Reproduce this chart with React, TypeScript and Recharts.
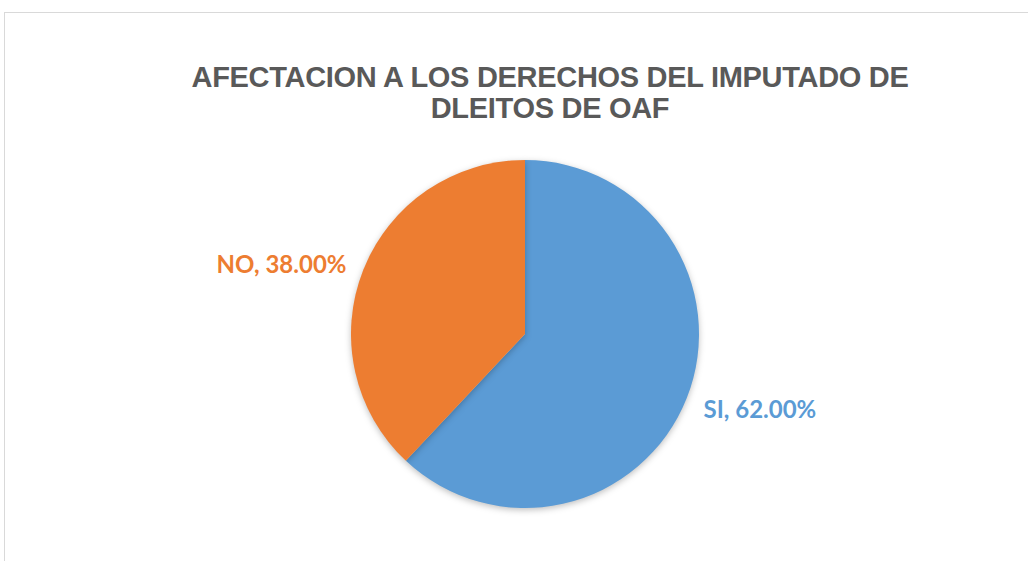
import { PieChart, Pie, Cell } from 'recharts'

const CATEGORIES = ['SI', 'NO']
const VALUES = [62, 38]
const COLORS = ['#5B9BD5', '#ED7D31']
const TITLE_LINES = ['AFECTACION A LOS DERECHOS DEL IMPUTADO DE', 'DLEITOS DE OAF']

const RADIAN = Math.PI / 180

const data = CATEGORIES.map((name, i) => ({ name, value: VALUES[i] }))

function renderLabel(props: any) {
  const { cx, cy, midAngle, outerRadius, index, name, value } = props
  const r = outerRadius + 18
  const x = cx + r * Math.cos(-midAngle * RADIAN)
  const y = cy + r * Math.sin(-midAngle * RADIAN)
  const right = x > cx
  return (
    <text
      x={x}
      y={y + (right ? 4 : 0)}
      fill={COLORS[index % COLORS.length]}
      textAnchor={right ? 'start' : 'end'}
      dominantBaseline="central"
      style={{ fontFamily: 'Lato, "Open Sans", sans-serif', fontWeight: 700, fontSize: 24 }}
    >
      {`${name}, ${value.toFixed(2)}%`}
    </text>
  )
}

export default function App() {
  return (
    <div style={{ position: 'absolute', left: 0, top: 0, width: 1028, height: 561, background: '#fff', overflow: 'hidden' }}>
      <style>{`.recharts-sector { filter: drop-shadow(0px 2px 3px rgba(0,0,0,0.25)); }`}</style>
      {/* chart frame */}
      <div
        style={{
          position: 'absolute',
          left: 4,
          top: 12,
          width: 1040,
          height: 570,
          borderLeft: '1px solid #d9d9d9',
          borderTop: '1px solid #d9d9d9',
        }}
      />
      <div
        style={{
          position: 'absolute',
          left: 0,
          top: 62,
          width: 1100,
          textAlign: 'center',
          color: '#595959',
          fontFamily: '"Liberation Sans", Arial, sans-serif',
          fontWeight: 700,
          fontSize: 29,
          lineHeight: '31px',
          letterSpacing: -0.3,
        }}
      >
        {TITLE_LINES.map((t) => (
          <div key={t}>{t}</div>
        ))}
      </div>
      <div style={{ position: 'absolute', left: 0, top: 0 }}>
        <PieChart width={1028} height={561} margin={{ top: 0, right: 0, bottom: 0, left: 0 }}>
          <Pie
            data={data}
            dataKey="value"
            nameKey="name"
            cx={525}
            cy={334}
            outerRadius={174}
            startAngle={90}
            endAngle={-270}
            stroke="none"
            labelLine={false}
            label={renderLabel}
            isAnimationActive={false}
          >
            {data.map((entry, index) => (
              <Cell key={`cell-${entry.name}`} fill={COLORS[index % COLORS.length]} />
            ))}
          </Pie>
        </PieChart>
      </div>
    </div>
  )
}
